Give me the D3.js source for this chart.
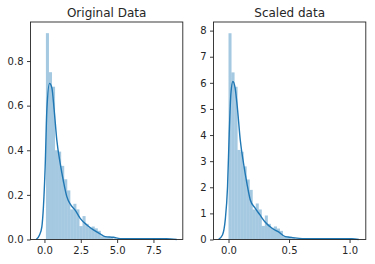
<!DOCTYPE html>
<html>
<head>
<meta charset="utf-8">
<script src="https://cdnjs.cloudflare.com/ajax/libs/d3/7.8.5/d3.min.js"></script>
<style>
body { margin: 0; background: #fff; }
svg { display: block; font-family: "DejaVu Sans", sans-serif; }
.tick text { fill: #262626; }
</style>
</head>
<body>
<script>
// chart data
var titles = ["Original Data", "Scaled data"]

// histogram bins: first edge + width, then density per bin
var origBinStart = 0.1, origBinWidth = 0.21
var origDensity = [0.925, 0.75, 0.685, 0.40, 0.394, 0.33, 0.27, 0.22, 0.135, 0.16,
  0.135, 0.06, 0.105, 0.07, 0.053, 0.058, 0.05, 0.039, 0.014, 0.014,
  0.012, 0.007, 0.004, 0.002, 0.001, 0.001, 0.004, 0.001, 0.004, 0.002,
  0.001, 0.002, 0.001, 0.001, 0, 0.001, 0.002, 0.001, 0, 0.002]

var scaledBinStart = 0, scaledBinWidth = 0.025
var scaledDensity = [7.9, 6.4, 5.85, 3.43, 3.36, 2.8, 2.3, 1.9, 1.15, 1.38,
  1.15, 0.52, 0.92, 0.6, 0.45, 0.5, 0.42, 0.33, 0.12, 0.12,
  0.1, 0.06, 0.03, 0.02, 0.01, 0.01, 0.03, 0.01, 0.03, 0.02,
  0.01, 0.02, 0.01, 0.01, 0, 0.01, 0.02, 0.01, 0, 0.02]

// kde curves
var origKdeX = [-0.57, -0.34, -0.18, -0.07, 0.05, 0.165, 0.35, 0.51, 0.67, 0.85, 1.08, 1.31, 1.54, 1.81, 2.11, 2.46, 2.92, 3.37, 3.83, 4.18, 4.75, 5.21, 6.13, 7.27, 8.4, 9.1]
var origKdeY = [0, 0.02, 0.057, 0.147, 0.326, 0.58, 0.70, 0.68, 0.58, 0.446, 0.342, 0.26, 0.192, 0.155, 0.132, 0.095, 0.065, 0.043, 0.025, 0.013, 0.01, 0.004, 0.004, 0.004, 0.004, 0]

var scaledKdeX = [-0.083, -0.05, -0.027, -0.008, 0.006, 0.02, 0.036, 0.055, 0.075, 0.097, 0.124, 0.152, 0.18, 0.22, 0.26, 0.30, 0.36, 0.41, 0.47, 0.52, 0.61, 0.745, 0.88, 1.02, 1.076]
var scaledKdeY = [0, 0.17, 0.75, 2.02, 4.07, 5.6, 6.05, 5.79, 4.96, 3.81, 2.92, 2.15, 1.51, 1.2, 0.94, 0.68, 0.43, 0.30, 0.11, 0.08, 0.03, 0.03, 0.03, 0.03, 0]

var origXTicks = [0, 2.5, 5, 7.5], origYTicks = [0, 0.2, 0.4, 0.6, 0.8]
var scaledXTicks = [0, 0.5, 1], scaledYTicks = [0, 1, 2, 3, 4, 5, 6, 7, 8]

var panels = [
  {title: titles[0], start: origBinStart, width: origBinWidth, dens: origDensity,
   kx: origKdeX, ky: origKdeY, xd: [-0.96, 9.52], yd: [0, 0.975],
   xt: origXTicks, yt: origYTicks, xf: d3.format(".1f"), yf: d3.format(".1f"), left: 30.5},
  {title: titles[1], start: scaledBinStart, width: scaledBinWidth, dens: scaledDensity,
   kx: scaledKdeX, ky: scaledKdeY, xd: [-0.124, 1.134], yd: [0, 8.33],
   xt: scaledXTicks, yt: scaledYTicks, xf: d3.format(".1f"), yf: d3.format("d"), left: 213.5}
]

var W = 375, H = 264, plotTop = 22, plotBottom = 239.5, pw = 152.3

var svg = d3.select("body").append("svg")
  .attr("width", W).attr("height", H)

panels.forEach(function(p) {
  var x = d3.scaleLinear().domain(p.xd).range([p.left, p.left + pw])
  var y = d3.scaleLinear().domain(p.yd).range([plotBottom, plotTop])
  var g = svg.append("g")

  var bins = p.dens.map(function(d, i) {
    return {x0: p.start + i * p.width, x1: p.start + (i + 1) * p.width, v: d}
  })

  g.selectAll(".bar")
    .data(bins)
    .enter().append("rect")
      .attr("class", "bar")
      .attr("x", function(d) { return x(d.x0) })
      .attr("width", function(d) { return x(d.x1) - x(d.x0) })
      .attr("y", function(d) { return y(d.v) })
      .attr("height", function(d) { return plotBottom - y(d.v) })
      .attr("fill", "#1f77b4")
      .attr("fill-opacity", 0.4)

  var line = d3.line()
    .x(function(d) { return x(d[0]) })
    .y(function(d) { return y(d[1]) })
    .curve(d3.curveMonotoneX)

  g.append("path")
    .datum(d3.zip(p.kx, p.ky))
    .attr("d", line)
    .attr("fill", "none")
    .attr("stroke", "#1f77b4")
    .attr("stroke-width", 1.4)

  // frame
  g.append("rect")
    .attr("x", p.left).attr("y", plotTop)
    .attr("width", pw).attr("height", plotBottom - plotTop)
    .attr("fill", "none").attr("stroke", "#262626").attr("stroke-width", 0.9)

  var xa = g.append("g")
    .attr("transform", "translate(0," + plotBottom + ")")
    .call(d3.axisBottom(x).tickValues(p.xt).tickFormat(p.xf).tickSize(3.5).tickPadding(3.5))
  var ya = g.append("g")
    .attr("transform", "translate(" + p.left + ",0)")
    .call(d3.axisLeft(y).tickValues(p.yt).tickFormat(p.yf).tickSize(3.5).tickPadding(3.5))
  ;[xa, ya].forEach(function(a) {
    a.select(".domain").remove()
    a.selectAll("line").attr("stroke", "#262626").attr("stroke-width", 0.9)
    a.selectAll("text").attr("font-size", 10).attr("font-family", "DejaVu Sans")
  })

  g.append("text")
    .attr("x", p.left + pw / 2).attr("y", 16.5)
    .attr("text-anchor", "middle")
    .attr("font-size", 12)
    .attr("fill", "#262626")
    .text(p.title)
})
</script>
</body>
</html>
